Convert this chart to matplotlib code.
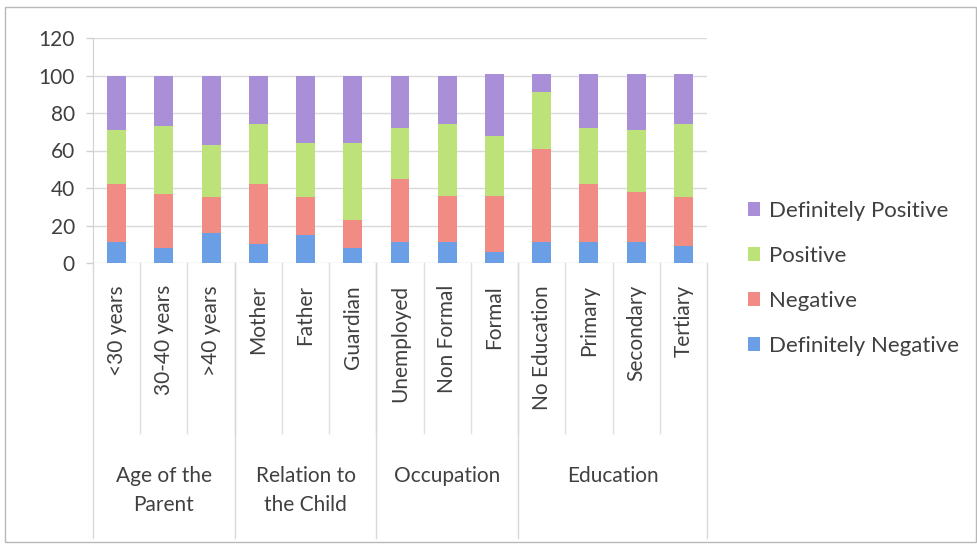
import matplotlib.pyplot as plt
from matplotlib.lines import Line2D
from matplotlib.patches import Rectangle
import numpy as np

plt.rcParams['font.family'] = ['Lato', 'DejaVu Sans']

categories = ['<30 years', '30-40 years', '>40 years',
              'Mother', 'Father', 'Guardian',
              'Unemployed', 'Non Formal', 'Formal',
              'No Education', 'Primary', 'Secondary', 'Tertiary']
groups = ['Age of the\nParent', 'Relation to\nthe Child', 'Occupation', 'Education']
group_sizes = [3, 3, 3, 4]

def_negative = [11, 8, 16, 10, 15, 8, 11, 11, 6, 11, 11, 11, 9]
negative = [31, 29, 19, 32, 20, 15, 34, 25, 30, 50, 31, 27, 26]
positive = [29, 36, 28, 32, 29, 41, 27, 38, 32, 30, 30, 33, 39]
def_positive = [29, 27, 37, 26, 36, 36, 28, 26, 33, 10, 29, 30, 27]

series = [('Definitely Negative', def_negative, '#6a9fe6'),
          ('Negative', negative, '#f08c84'),
          ('Positive', positive, '#bde27a'),
          ('Definitely Positive', def_positive, '#a98ed8')]

W, H = 978, 544
fig = plt.figure(figsize=(W / 100, H / 100), dpi=100)
fig.patches.append(Rectangle((5 / W, 2 / H), 971 / W, 535 / H, transform=fig.transFigure,
                             fill=False, edgecolor='#b8b8b8', linewidth=1))

left, right, top, bottom = 93, 707, 38, 263
ax = fig.add_axes([left / W, 1 - bottom / H, (right - left) / W, (bottom - top) / H])

x = np.arange(len(categories))
base = np.zeros(len(categories))
handles = []
for name, vals, color in series:
    ax.bar(x, vals, bottom=base, width=0.4, color=color, zorder=3)
    base += np.array(vals)
    handles.append(Rectangle((0, 0), 1, 1, facecolor=color, label=name))

ax.set_xlim(-0.5, len(categories) - 0.5)
ax.set_ylim(0, 120)
ax.set_yticks(range(0, 121, 20))
ax.yaxis.grid(True, color='#d9d9d9', linewidth=1, zorder=0)
ax.tick_params(axis='y', labelsize=15, colors='#404040', length=5, width=1,
               pad=8)
ax.tick_params(axis='y', color='#d0d0d0')
ax.set_xticks([])
for s in ['top', 'right', 'bottom']:
    ax.spines[s].set_visible(False)
ax.spines['left'].set_color('#d0d0d0')

ax_h = bottom - top
def ypix(p):
    return -(p - bottom) / ax_h

# category labels and separators below the axis
for i, lab in enumerate(categories):
    ax.text(i, ypix(285), lab, rotation=90, ha='center', va='top', fontsize=15,
            color='#404040', transform=ax.get_xaxis_transform(), clip_on=False)
for i in range(1, len(categories)):
    ax.add_line(Line2D([i - 0.5, i - 0.5], [0, ypix(433)], color='#e0e0e0', linewidth=1,
                       transform=ax.get_xaxis_transform(), clip_on=False))

start = 0
edges = [-0.5]
for g, n in zip(groups, group_sizes):
    ax.text(start + (n - 1) / 2, ypix(466), g, ha='center', va='top', fontsize=15,
            color='#404040', linespacing=1.55, transform=ax.get_xaxis_transform(),
            clip_on=False)
    start += n
    edges.append(start - 0.5)
for e in edges:
    ax.add_line(Line2D([e, e], [0, ypix(538)], color='#d8d8d8', linewidth=1,
                       transform=ax.get_xaxis_transform(), clip_on=False))

fig.legend(handles=handles[::-1], loc='upper left', bbox_to_anchor=(728 / W, 1 - 181 / H),
           frameon=False, fontsize=16, labelspacing=1.12, handlelength=0.55,
           handleheight=0.55, handletextpad=0.4, labelcolor='#404040')

fig.savefig('out.png', dpi=100)
